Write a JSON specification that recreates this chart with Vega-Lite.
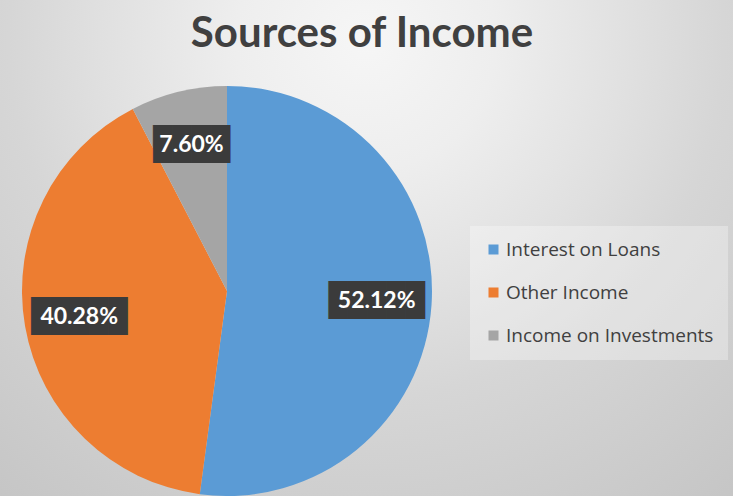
{
  "$schema": "https://vega.github.io/schema/vega-lite/v6.json",
  "width": 434,
  "height": 410,
  "autosize": {"type": "none"},
  "padding": {"left": 10, "top": 86, "right": 289, "bottom": 0},
  "background": "white",
  "title": {
    "text": "Sources of Income",
    "font": "Lato",
    "fontSize": 42,
    "fontWeight": "bold",
    "color": "#404040",
    "anchor": "middle",
    "frame": "group",
    "dx": 135,
    "offset": -448,
    "baseline": "alphabetic"
  },
  "data": {
    "values": [
      {"source": "Interest on Loans", "share": 52.12, "label": "52.12%"},
      {"source": "Other Income", "share": 40.28, "label": "40.28%"},
      {"source": "Income on Investments", "share": 7.60, "label": "7.60%"}
    ]
  },
  "layer": [
    {
      "data": {"values": [{}]},
      "mark": {
        "type": "arc",
        "theta": 0,
        "theta2": 6.2832,
        "radius": 650,
        "fill": {
          "gradient": "radial",
          "x1": 0.607, "y1": 0.307, "r1": 0,
          "x2": 0.607, "y2": 0.307, "r2": 0.5,
          "stops": [
            {"offset": 0, "color": "#f6f6f6"},
            {"offset": 0.2, "color": "#eeeeee"},
            {"offset": 0.41, "color": "#e0e0e0"},
            {"offset": 0.55, "color": "#d6d6d6"},
            {"offset": 0.89, "color": "#c6c6c6"},
            {"offset": 1, "color": "#c3c3c3"}
          ]
        }
      },
      "encoding": {}
    },
    {
      "mark": {"type": "arc"},
      "encoding": {
        "theta": {"field": "share", "type": "quantitative", "stack": true},
        "order": {"field": "share", "type": "quantitative", "sort": "descending"},
        "color": {
          "field": "source",
          "type": "nominal",
          "sort": null,
          "scale": {
            "domain": ["Interest on Loans", "Other Income", "Income on Investments"],
            "range": ["#5b9bd5", "#ed7d31", "#a5a5a5"]
          },
          "legend": {
            "orient": "none",
            "legendX": 460,
            "legendY": 140,
            "title": null,
            "symbolType": "square",
            "symbolSize": 100,
            "symbolStrokeWidth": 0,
            "labelFont": "Open Sans",
            "labelFontSize": 19,
            "labelColor": "#404040",
            "labelOffset": 3,
            "labelLimit": 400,
            "rowPadding": 23,
            "padding": 14,
            "fillColor": "rgba(255,255,255,0.3)"
          }
        }
      }
    },
    {
      "transform": [{"calculate": "pad('', length(datum.label) - 1, '█')", "as": "box"}],
      "mark": {
        "type": "text",
        "radius": 150,
        "font": "DejaVu Sans Mono",
        "fontSize": 32,
        "color": "#3b3b3b",
        "align": "center",
        "baseline": "middle"
      },
      "encoding": {
        "theta": {"field": "share", "type": "quantitative", "stack": true},
        "order": {"field": "share", "type": "quantitative", "sort": "descending"},
        "text": {"field": "box"}
      }
    },
    {
      "mark": {
        "type": "text",
        "radius": 150,
        "font": "Lato",
        "fontSize": 23,
        "fontWeight": "bold",
        "color": "white",
        "align": "center",
        "baseline": "middle"
      },
      "encoding": {
        "theta": {"field": "share", "type": "quantitative", "stack": true},
        "order": {"field": "share", "type": "quantitative", "sort": "descending"},
        "text": {"field": "label"}
      }
    }
  ],
  "config": {"view": {"stroke": null}}
}
